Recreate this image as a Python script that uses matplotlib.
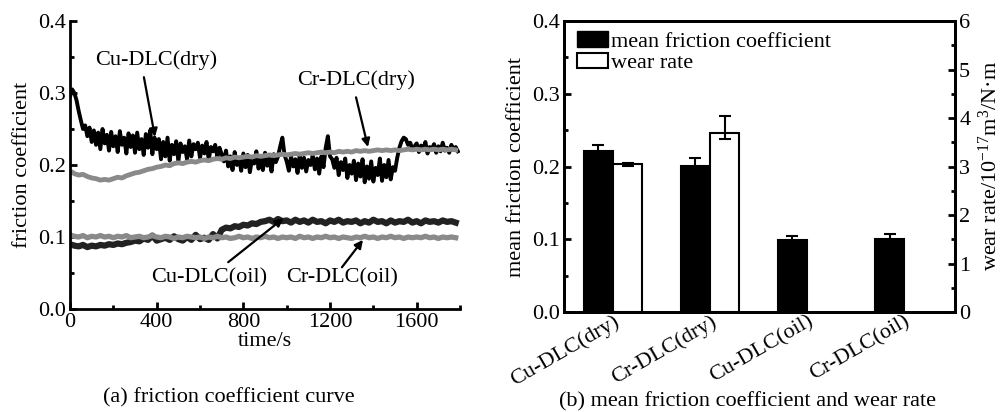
import numpy as np
import matplotlib
matplotlib.use("Agg")
import matplotlib.pyplot as plt
from matplotlib.patches import Patch
from matplotlib.ticker import MultipleLocator

plt.rcParams['font.family'] = ['Liberation Serif', 'DejaVu Serif']
plt.rcParams['mathtext.fontset'] = 'custom'
plt.rcParams['mathtext.rm'] = 'Liberation Serif'
plt.rcParams['mathtext.it'] = 'Liberation Serif:italic'
plt.rcParams['font.size'] = 16

# ---- (a) friction coefficient curves ----
t_cu_dry = np.arange(0, 1800, 10)
cu_dry = [
    0.295, 0.305, 0.300, 0.290, 0.275, 0.262, 0.250, 0.255, 0.240, 0.252,
    0.232, 0.248, 0.228, 0.245, 0.222, 0.250, 0.230, 0.242, 0.220, 0.246,
    0.226, 0.240, 0.218, 0.247, 0.228, 0.238, 0.216, 0.244, 0.225, 0.241,
    0.217, 0.245, 0.222, 0.236, 0.214, 0.243, 0.224, 0.248, 0.215, 0.238,
    0.222, 0.236, 0.208, 0.232, 0.212, 0.238, 0.206, 0.228, 0.215, 0.233,
    0.205, 0.230, 0.218, 0.226, 0.208, 0.234, 0.212, 0.229, 0.222, 0.231,
    0.210, 0.227, 0.216, 0.232, 0.207, 0.225, 0.219, 0.228, 0.211, 0.224,
    0.215, 0.205, 0.220, 0.198, 0.212, 0.193, 0.218, 0.200, 0.210, 0.192,
    0.216, 0.197, 0.214, 0.190, 0.208, 0.202, 0.219, 0.195, 0.211, 0.193,
    0.217, 0.199, 0.209, 0.191, 0.215, 0.204, 0.212, 0.226, 0.238, 0.214,
    0.205, 0.192, 0.212, 0.198, 0.208, 0.189, 0.214, 0.196, 0.210, 0.191,
    0.207, 0.200, 0.213, 0.194, 0.209, 0.188, 0.212, 0.197, 0.224, 0.240,
    0.212, 0.208, 0.196, 0.210, 0.186, 0.204, 0.193, 0.209, 0.182, 0.200,
    0.188, 0.206, 0.179, 0.202, 0.184, 0.208, 0.176, 0.198, 0.181, 0.205,
    0.177, 0.196, 0.186, 0.209, 0.178, 0.200, 0.183, 0.207, 0.180, 0.197,
    0.192, 0.210, 0.224, 0.233, 0.238, 0.236, 0.228, 0.231, 0.222, 0.226,
    0.230, 0.218, 0.227, 0.221, 0.232, 0.216, 0.225, 0.222, 0.229, 0.217,
    0.226, 0.219, 0.231, 0.220, 0.224, 0.217, 0.228, 0.221, 0.225, 0.219,
]

t_other = np.arange(0, 1800, 20)
cr_dry = [
    0.192, 0.188, 0.186, 0.187, 0.184, 0.182, 0.181, 0.179, 0.180, 0.179,
    0.181, 0.183, 0.182, 0.185, 0.187, 0.189, 0.190, 0.192, 0.194, 0.195,
    0.197, 0.198, 0.200, 0.199, 0.202, 0.203, 0.202, 0.204, 0.205, 0.204,
    0.206, 0.207, 0.206, 0.208, 0.209, 0.208, 0.210, 0.209, 0.211, 0.210,
    0.211, 0.212, 0.211, 0.213, 0.212, 0.213, 0.214, 0.213, 0.214, 0.215,
    0.214, 0.215, 0.216, 0.215, 0.216, 0.217, 0.216, 0.217, 0.218, 0.217,
    0.218, 0.217, 0.219, 0.218, 0.219, 0.218, 0.220, 0.219, 0.220, 0.219,
    0.220, 0.221, 0.220, 0.221, 0.220, 0.221, 0.220, 0.221, 0.222, 0.221,
    0.222, 0.221, 0.222, 0.221, 0.222, 0.221, 0.222, 0.221, 0.222, 0.221,
]
cu_oil = [
    0.090, 0.088, 0.087, 0.089, 0.086, 0.088, 0.087, 0.089, 0.088, 0.090,
    0.089, 0.091, 0.090,
    0.092, 0.093, 0.095, 0.094, 0.098, 0.096, 0.102, 0.095, 0.097, 0.099,
    0.096, 0.101, 0.097, 0.095, 0.100, 0.096, 0.103, 0.097, 0.099, 0.096,
    0.104, 0.098,
    0.110, 0.113, 0.112, 0.115, 0.114, 0.117, 0.116, 0.119, 0.118, 0.121,
    0.122, 0.124, 0.121, 0.125, 0.122, 0.123, 0.120, 0.124, 0.121, 0.123,
    0.120, 0.124, 0.121, 0.122, 0.119, 0.123, 0.121, 0.124, 0.120, 0.122,
    0.121, 0.123, 0.119, 0.122, 0.120, 0.124, 0.121, 0.122, 0.119, 0.123,
    0.120, 0.122, 0.121, 0.124, 0.120, 0.122, 0.119, 0.123, 0.121, 0.122,
    0.120, 0.123, 0.121, 0.122, 0.120,
]
cr_oil = [
    0.103, 0.101, 0.100, 0.102, 0.099, 0.101, 0.100, 0.102, 0.100, 0.101,
    0.099, 0.101, 0.100, 0.102, 0.099, 0.100, 0.101, 0.099, 0.100, 0.102,
    0.100, 0.099, 0.101, 0.100, 0.098, 0.100, 0.099, 0.101, 0.100, 0.099,
    0.100, 0.098, 0.100, 0.099, 0.101, 0.099, 0.100, 0.098, 0.099, 0.101,
    0.099, 0.100, 0.098, 0.100, 0.099, 0.101, 0.099, 0.100, 0.098, 0.100,
    0.099, 0.100, 0.098, 0.101, 0.099, 0.100, 0.098, 0.100, 0.099, 0.101,
    0.099, 0.100, 0.098, 0.100, 0.099, 0.098, 0.100, 0.099, 0.101, 0.099,
    0.100, 0.098, 0.100, 0.099, 0.101, 0.099, 0.100, 0.098, 0.100, 0.099,
    0.100, 0.099, 0.101, 0.099, 0.100, 0.098, 0.100, 0.099, 0.100, 0.099,
]

# ---- (b) mean friction and wear rate ----
samples = ['Cu-DLC(dry)', 'Cr-DLC(dry)', 'Cu-DLC(oil)', 'Cr-DLC(oil)']
mean_friction = [0.222, 0.201, 0.099, 0.100]
friction_err = [0.007, 0.011, 0.006, 0.007]
wear_rate = [3.05, 3.70]
wear_err_low = [0.03, 0.14]
wear_err_high = [0.03, 0.34]

fig = plt.figure(figsize=(10.06, 4.12), dpi=100)

ax1 = fig.add_axes([0.0696, 0.25, 0.3877, 0.699])
gray = '#8a8a8a'
ax1.plot(t_cu_dry, cu_dry, color='black', lw=2.8)
ax1.plot(t_other, cu_oil, color='#222222', lw=4.5)
ax1.plot(t_other, cr_dry, color=gray, lw=3.5)
ax1.plot(t_other, cr_oil, color=gray, lw=3.8)
ax1.set_xlim(0, 1800)
ax1.set_ylim(0, 0.4)
ax1.xaxis.set_major_locator(MultipleLocator(400))
ax1.xaxis.set_minor_locator(MultipleLocator(200))
ax1.yaxis.set_major_locator(MultipleLocator(0.1))
ax1.yaxis.set_minor_locator(MultipleLocator(0.05))
ax1.yaxis.set_major_formatter(plt.FormatStrFormatter('%.1f'))
ax1.spines['top'].set_visible(False)
ax1.spines['right'].set_visible(False)
for s in ['left', 'bottom']:
    ax1.spines[s].set_linewidth(2)
ax1.tick_params(which='both', direction='in', width=2, labelsize=16, pad=3)
ax1.tick_params(which='major', length=5)
ax1.tick_params(which='minor', length=3)
ax1.set_xlabel('time/s', labelpad=0)
ax1.set_ylabel('friction coefficient', labelpad=4)

arrow = dict(arrowstyle='-|>', color='black', lw=1.6, mutation_scale=12, shrinkA=0, shrinkB=0)
ax1.text(397, 0.346, 'Cu-DLC(dry)', ha='center', va='center')
ax1.annotate('', xy=(392, 0.239), xytext=(341, 0.322), arrowprops=arrow)
ax1.text(1320, 0.318, 'Cr-DLC(dry)', ha='center', va='center')
ax1.annotate('', xy=(1375, 0.225), xytext=(1320, 0.294), arrowprops=arrow)
ax1.text(641, 0.043, 'Cu-DLC(oil)', ha='center', va='center')
ax1.annotate('', xy=(985, 0.126), xytext=(730, 0.065), arrowprops=arrow)
ax1.text(1255, 0.043, 'Cr-DLC(oil)', ha='center', va='center')
ax1.annotate('', xy=(1352, 0.096), xytext=(1255, 0.058), arrowprops=arrow)

# ---- right panel ----
ax2 = fig.add_axes([0.5606, 0.2427, 0.3887, 0.7063])
ax3 = ax2.twinx()
x = np.arange(len(samples))
w = 0.3
ax2.bar(x - w / 2, mean_friction, width=w, color='black', edgecolor='black', lw=1.5,
        yerr=friction_err, capsize=4, error_kw=dict(ecolor='black', elinewidth=1.5, capthick=1.5))
ax3.bar(x[:2] + w / 2, wear_rate, width=w, color='white', edgecolor='black', lw=1.5,
        yerr=[wear_err_low, wear_err_high], capsize=4,
        error_kw=dict(ecolor='black', elinewidth=1.5, capthick=1.5))
ax2.set_xlim(-0.505, 3.525)
ax2.set_ylim(0, 0.4)
ax3.set_ylim(0, 6)
ax2.yaxis.set_major_locator(MultipleLocator(0.1))
ax2.yaxis.set_minor_locator(MultipleLocator(0.05))
ax2.yaxis.set_major_formatter(plt.FormatStrFormatter('%.1f'))
ax3.yaxis.set_major_locator(MultipleLocator(1))
ax3.yaxis.set_minor_locator(MultipleLocator(0.5))
for a in (ax2, ax3):
    for s in a.spines.values():
        s.set_linewidth(2)
    a.tick_params(which='both', direction='in', width=2, labelsize=16, pad=3)
    a.tick_params(which='major', length=5)
    a.tick_params(which='minor', length=3)
ax2.set_xticks(x)
ax2.set_xticklabels(samples, rotation=30, ha='right', rotation_mode='anchor')
ax2.tick_params(axis='x', length=0, pad=0)
ax2.set_ylabel('mean friction coefficient', labelpad=4)
ax3.set_ylabel('wear rate/10$^{\\mathrm{-17}}$m$^{\\mathrm{3}}$/N·m', labelpad=6)

handles = [Patch(facecolor='black', edgecolor='black'),
           Patch(facecolor='white', edgecolor='black', lw=1.5)]
ax2.legend(handles, ['mean friction coefficient', 'wear rate'], loc='upper left',
           bbox_to_anchor=(0.033, 0.965), frameon=False, fontsize=16, borderpad=0,
           borderaxespad=0, handlelength=1.4, handleheight=0.7, handletextpad=0.15,
           labelspacing=0.05)

fig.text(0.227, 0.034, '(a) friction coefficient curve', ha='center', va='center', fontsize=16)
fig.text(0.743, 0.026, '(b) mean friction coefficient and wear rate', ha='center', va='center',
         fontsize=16)

fig.savefig('out.png', dpi=100)
